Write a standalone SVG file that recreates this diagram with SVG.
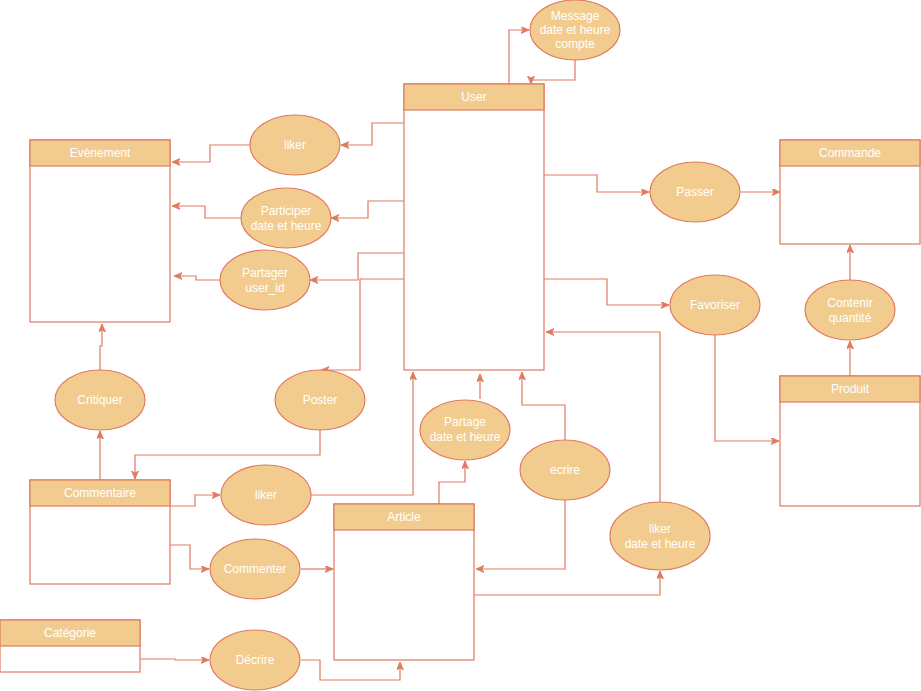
<svg xmlns="http://www.w3.org/2000/svg" width="921" height="691" viewBox="0 0 921 691">
<style>
.hd{fill:#F2CC8F;stroke:#E07A5F;stroke-width:1.2}
.bd{fill:#FFFFFF;stroke:#E07A5F;stroke-width:1.2}
.el{fill:#F2CC8F;stroke:#E07A5F;stroke-width:1.2}
.t{font-family:"Liberation Sans",Arial,sans-serif;font-size:12px;fill:#FFFFFF;text-anchor:middle;dominant-baseline:central}
.c{fill:none;stroke:#E07A5F;stroke-width:1.2;marker-end:url(#arr)}
</style>
<defs>
<marker id="arr" markerUnits="userSpaceOnUse" markerWidth="10" markerHeight="10" refX="8" refY="3.5" orient="auto">
<path d="M0,0 L8,3.5 L0,7 L2,3.5 z" fill="#E07A5F" stroke="#E07A5F" stroke-width="0.8"/>
</marker>
</defs>
<rect width="921" height="691" fill="#FFFFFF"/>

<g id="connectors">
<polyline class="c" points="509,84 509,30 529,30"/>
<polyline class="c" points="575,60 575,80 531,80 531,84"/>
<polyline class="c" points="404,123 372,123 372,145 341,145"/>
<polyline class="c" points="250,145 210,145 210,162 172,162"/>
<polyline class="c" points="404,201 368,201 368,218 331,218"/>
<polyline class="c" points="241,218 205,218 205,206 172,206"/>
<polyline class="c" points="404,253 358,253 358,280 310,280"/>
<polyline class="c" points="220,280 196,280 196,276 174,276"/>
<polyline class="c" points="404,279 360,279 360,370 321,370"/>
<polyline class="c" points="320,430 320,455 135,455 135,479"/>
<polyline class="c" points="100,370 100,346 102,346 102,324"/>
<polyline class="c" points="100,480 100,431"/>
<polyline class="c" points="170,506 195,506 195,495 220,495"/>
<polyline class="c" points="311,495 413,495 413,372"/>
<polyline class="c" points="439,504 439,482 465,482 465,461"/>
<polyline class="c" points="480,399 480,374"/>
<polyline class="c" points="565,440 565,405 522,405 522,372"/>
<polyline class="c" points="565,500 565,569 476,569"/>
<polyline class="c" points="301,569 333,569"/>
<polyline class="c" points="170,545 190,545 190,569 209,569"/>
<polyline class="c" points="140,659 175,659 175,660 209,660"/>
<polyline class="c" points="301,660 320,660 320,680 400,680 400,662"/>
<polyline class="c" points="474,595 660,595 660,571"/>
<polyline class="c" points="660,502 660,332 546,332"/>
<polyline class="c" points="544,175 597,175 597,192 649,192"/>
<polyline class="c" points="741,192 780,192"/>
<polyline class="c" points="544,279 607,279 607,305 669,305"/>
<polyline class="c" points="715,335 715,441 779,441"/>
<polyline class="c" points="850,376 850,341"/>
<polyline class="c" points="850,280 850,245"/>
</g>

<g id="user"><rect class="bd" x="404" y="84" width="140" height="286"/><rect class="hd" x="404" y="84" width="140" height="26"/><text class="t" x="474" y="97">User</text></g>
<g id="evenement"><rect class="bd" x="30" y="140" width="140" height="182"/><rect class="hd" x="30" y="140" width="140" height="26"/><text class="t" x="100" y="153">Evènement</text></g>
<g id="commande"><rect class="bd" x="780" y="140" width="140" height="104"/><rect class="hd" x="780" y="140" width="140" height="26"/><text class="t" x="850" y="153">Commande</text></g>
<g id="produit"><rect class="bd" x="780" y="376" width="140" height="130"/><rect class="hd" x="780" y="376" width="140" height="26"/><text class="t" x="850" y="389">Produit</text></g>
<g id="commentaire"><rect class="bd" x="30" y="480" width="140" height="104"/><rect class="hd" x="30" y="480" width="140" height="26"/><text class="t" x="100" y="493">Commentaire</text></g>
<g id="article"><rect class="bd" x="334" y="504" width="140" height="156"/><rect class="hd" x="334" y="504" width="140" height="26"/><text class="t" x="404" y="517">Article</text></g>
<g id="categorie"><rect class="bd" x="0" y="620" width="140" height="52"/><rect class="hd" x="0" y="620" width="140" height="26"/><text class="t" x="70" y="633">Catégorie</text></g>

<g id="message"><ellipse class="el" cx="575" cy="30" rx="45" ry="30"/><text class="t" x="575" y="16">Message</text><text class="t" x="575" y="30">date et heure</text><text class="t" x="575" y="44">compte</text></g>
<g id="liker-evt"><ellipse class="el" cx="295" cy="145" rx="45" ry="30"/><text class="t" x="295" y="145">liker</text></g>
<g id="participer"><ellipse class="el" cx="286" cy="218" rx="45" ry="30"/><text class="t" x="286" y="211">Participer</text><text class="t" x="286" y="226">date et heure</text></g>
<g id="partager"><ellipse class="el" cx="265" cy="280" rx="45" ry="30"/><text class="t" x="265" y="273">Partager</text><text class="t" x="265" y="288">user_id</text></g>
<g id="passer"><ellipse class="el" cx="695" cy="192" rx="45" ry="30"/><text class="t" x="695" y="192">Passer</text></g>
<g id="favoriser"><ellipse class="el" cx="715" cy="305" rx="45" ry="30"/><text class="t" x="715" y="305">Favoriser</text></g>
<g id="contenir"><ellipse class="el" cx="850" cy="310" rx="45" ry="30"/><text class="t" x="850" y="303">Contenir</text><text class="t" x="850" y="318">quantité</text></g>
<g id="critiquer"><ellipse class="el" cx="100" cy="400" rx="45" ry="30"/><text class="t" x="100" y="400">Critiquer</text></g>
<g id="poster"><ellipse class="el" cx="320" cy="400" rx="45" ry="30"/><text class="t" x="320" y="400">Poster</text></g>
<g id="liker-com"><ellipse class="el" cx="266" cy="495" rx="45" ry="30"/><text class="t" x="266" y="495">liker</text></g>
<g id="partage"><ellipse class="el" cx="465" cy="430" rx="45" ry="30"/><text class="t" x="465" y="422">Partage</text><text class="t" x="465" y="437">date et heure</text></g>
<g id="ecrire"><ellipse class="el" cx="565" cy="470" rx="45" ry="30"/><text class="t" x="565" y="470">ecrire</text></g>
<g id="liker-art"><ellipse class="el" cx="660" cy="536" rx="50" ry="34"/><text class="t" x="660" y="529">liker</text><text class="t" x="660" y="544">date et heure</text></g>
<g id="commenter"><ellipse class="el" cx="255" cy="569" rx="45" ry="30"/><text class="t" x="255" y="569">Commenter</text></g>
<g id="decrire"><ellipse class="el" cx="255" cy="660" rx="45" ry="30"/><text class="t" x="255" y="660">Décrire</text></g>
</svg>
